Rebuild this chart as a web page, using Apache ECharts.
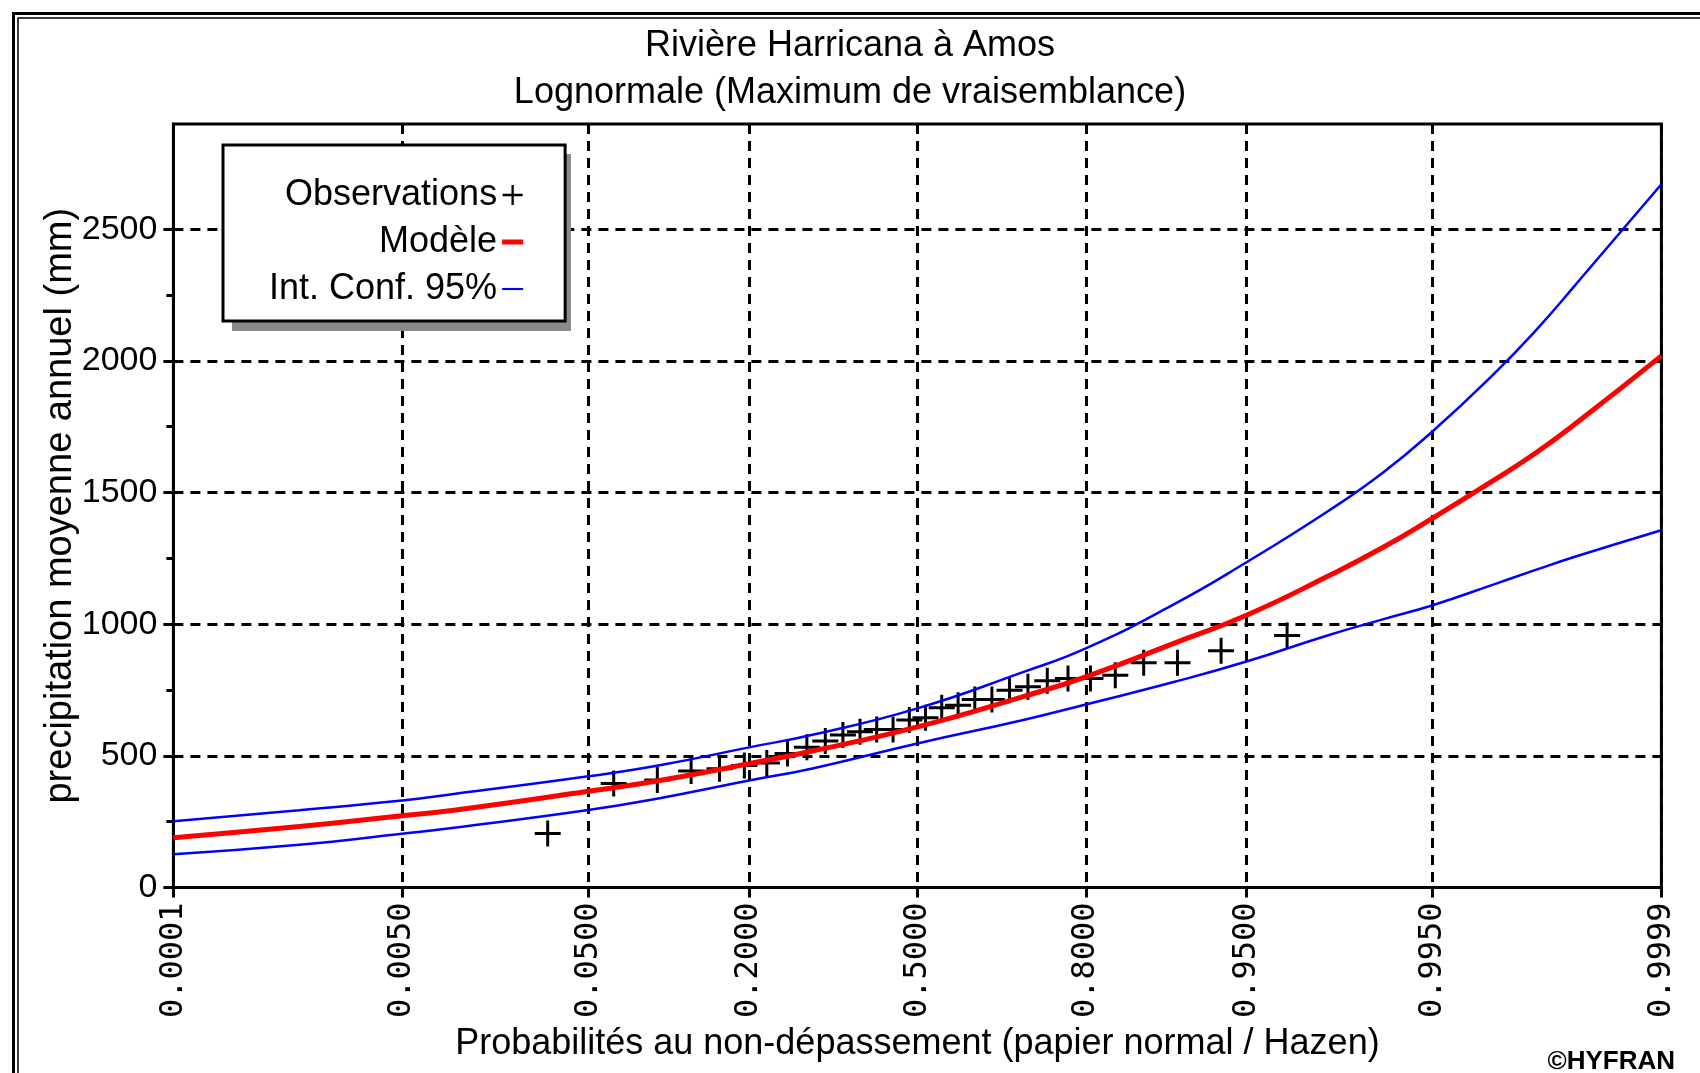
<!DOCTYPE html>
<html>
<head>
<meta charset="utf-8">
<title>Rivière Harricana à Amos</title>
<script src="https://cdn.jsdelivr.net/npm/echarts@6/dist/echarts.min.js"></script>
<style>
  html, body { margin: 0; padding: 0; background: #ffffff; }
  #chart { width: 1700px; height: 1073px; }
</style>
</head>
<body>
<div id="chart"></div>
<script>
// probabilites affichees sur l'axe (papier normal)
var tickProbs = ['0.0001', '0.0050', '0.0500', '0.2000', '0.5000', '0.8000', '0.9500', '0.9950', '0.9999'];
var yTicks = [0, 500, 1000, 1500, 2000, 2500];
var yMinorTicks = [250, 750, 1250, 1750, 2250];

// observations (position de tracage, precipitation mm)
var obsProb = [0.0323, 0.0645, 0.0968, 0.1290, 0.1613, 0.1935, 0.2258, 0.2581, 0.2903, 0.3226,
               0.3548, 0.3871, 0.4194, 0.4516, 0.4839, 0.5161, 0.5484, 0.5806, 0.6129, 0.6452,
               0.6774, 0.7097, 0.7419, 0.7742, 0.8065, 0.8387, 0.8710, 0.9032, 0.9355, 0.9677];
var obsValue = [205, 395, 408, 442, 451, 463, 473, 509, 532, 556,
                579, 591, 600, 600, 636, 644, 682, 692, 714, 714,
                749, 762, 785, 794, 794, 806, 853, 853, 899, 957];

// modele lognormal et intervalle de confiance 95%
var curveProb = [0.0001, 0.001, 0.005, 0.01, 0.05, 0.1, 0.2, 0.3, 0.5, 0.7,
                 0.8, 0.9, 0.95, 0.98, 0.99, 0.995, 0.998, 0.999, 0.9995, 0.9999];
var modelValue = [189, 231, 272, 292, 365, 407, 470, 518, 610, 724,
                  800, 927, 1034, 1183, 1291, 1403, 1545, 1650, 1762, 2019];
var upperValue = [251, 293, 330, 354, 422, 465, 532, 580, 680, 817,
                  908, 1075, 1235, 1430, 1575, 1733, 1948, 2115, 2290, 2671];
var lowerValue = [126, 162, 204, 226, 294, 340, 406, 452, 547, 635,
                  695, 780, 858, 958, 1018, 1072, 1150, 1206, 1257, 1357];

// quantile de la loi normale (Acklam) : echelle du papier normal
function probit(p) {
  var a = [-3.969683028665376e+01, 2.209460984245205e+02, -2.759285104469687e+02, 1.383577518672690e+02, -3.066479806614716e+01, 2.506628277459239e+00];
  var b = [-5.447609879822406e+01, 1.615858368580409e+02, -1.556989798598866e+02, 6.680131188771972e+01, -1.328068155288572e+01];
  var c = [-7.784894002430293e-03, -3.223964580411365e-01, -2.400758277161838e+00, -2.549732539343734e+00, 4.374664141464968e+00, 2.938163982698783e+00];
  var d = [7.784695709041462e-03, 3.224671290700398e-01, 2.445134137142996e+00, 3.754408661907416e+00];
  var pl = 0.02425, q, r;
  if (p < pl) {
    q = Math.sqrt(-2 * Math.log(p));
    return (((((c[0] * q + c[1]) * q + c[2]) * q + c[3]) * q + c[4]) * q + c[5]) / ((((d[0] * q + d[1]) * q + d[2]) * q + d[3]) * q + 1);
  }
  if (p > 1 - pl) {
    q = Math.sqrt(-2 * Math.log(1 - p));
    return -(((((c[0] * q + c[1]) * q + c[2]) * q + c[3]) * q + c[4]) * q + c[5]) / ((((d[0] * q + d[1]) * q + d[2]) * q + d[3]) * q + 1);
  }
  q = p - 0.5; r = q * q;
  return (((((a[0] * r + a[1]) * r + a[2]) * r + a[3]) * r + a[4]) * r + a[5]) * q / (((((b[0] * r + b[1]) * r + b[2]) * r + b[3]) * r + b[4]) * r + 1);
}

var tickZ = tickProbs.map(function (p) { return probit(parseFloat(p)); });
var zMin = tickZ[0], zMax = tickZ[tickZ.length - 1];

function pairs(probs, values) {
  return probs.map(function (p, i) { return [probit(p), values[i]]; });
}

var plusPath = 'path://M11.5,0H14.5V11.5H26V14.5H14.5V26H11.5V14.5H0V11.5H11.5Z';
var font = 'Liberation Sans';
var dashed = { color: '#000', width: 3, type: [10, 7] };

var chart = echarts.init(document.getElementById('chart'));

var option = {
  backgroundColor: '#ffffff',
  animation: false,
  title: {
    text: 'Rivière Harricana à Amos\nLognormale (Maximum de vraisemblance)',
    left: 'center',
    top: 18,
    textStyle: { fontFamily: font, fontSize: 36, fontWeight: 'normal', lineHeight: 47, color: '#000' }
  },
  legend: {
    left: 223,
    top: 145,
    z: 5,
    orient: 'vertical',
    align: 'right',
    padding: [32, 42, 14, 46],
    itemGap: 11,
    itemWidth: 21,
    itemHeight: 20,
    backgroundColor: '#ffffff',
    borderColor: '#000',
    borderWidth: 3,
    selectedMode: false,
    textStyle: { fontFamily: font, fontSize: 36, color: '#000' },
    data: [
      { name: 'Observations', icon: plusPath },
      { name: 'Modèle', icon: 'path://M0,0H21V5H0Z' },
      { name: 'Int. Conf. 95%', icon: 'path://M0,0H20V2H0Z' }
    ]
  },
  grid: {
    left: 173.4, right: 38.6, top: 124, bottom: 185.6,
    show: true, borderColor: '#000', borderWidth: 3, backgroundColor: 'transparent'
  },
  xAxis: {
    type: 'value',
    min: zMin,
    max: zMax,
    name: 'Probabilités au non-dépassement (papier normal / Hazen)',
    nameLocation: 'middle',
    nameGap: 136,
    nameTextStyle: { fontFamily: font, fontSize: 36, color: '#000' },
    axisLine: { onZero: false, lineStyle: { color: '#000', width: 3 } },
    axisTick: { customValues: tickZ, length: 10, lineStyle: { color: '#000', width: 3 } },
    axisLabel: {
      customValues: tickZ,
      rotate: 90,
      margin: 15,
      fontFamily: 'DejaVu Sans Mono',
      fontSize: 32,
      color: '#000',
      formatter: function (v) {
        var best = 0;
        for (var i = 1; i < tickZ.length; i++) {
          if (Math.abs(tickZ[i] - v) < Math.abs(tickZ[best] - v)) best = i;
        }
        return tickProbs[best];
      }
    },
    splitLine: { show: true, lineStyle: dashed }
  },
  yAxis: [{
    type: 'value',
    min: 0,
    max: 2900,
    interval: 500,
    name: 'precipitation moyenne annuel (mm)',
    nameLocation: 'middle',
    nameGap: 94,
    nameMoveOverlap: false,
    nameTextStyle: { fontFamily: font, fontSize: 38, color: '#000' },
    axisLine: { show: true, onZero: false, lineStyle: { color: '#000', width: 3 } },
    axisTick: { show: true, customValues: yTicks, length: 10, lineStyle: { color: '#000', width: 3 } },
    axisLabel: {
      customValues: yTicks, margin: 16, fontFamily: font, fontSize: 34, color: '#000',
      formatter: function (v) { return String(Math.round(v)); }
    },
    splitLine: { show: true, lineStyle: dashed }
  }, {
    type: 'value',
    min: 0,
    max: 2900,
    position: 'left',
    axisLine: { show: false, onZero: false },
    axisTick: { show: true, customValues: yMinorTicks, length: 7, lineStyle: { color: '#000', width: 3 } },
    axisLabel: { show: false },
    splitLine: { show: false }
  }],
  series: [
    {
      name: 'Observations',
      type: 'scatter',
      symbol: plusPath,
      symbolSize: 26,
      itemStyle: { color: '#000', opacity: 1 },
      z: 2,
      data: pairs(obsProb, obsValue)
    },
    {
      name: 'Modèle',
      type: 'line',
      color: '#ff0000',
      symbol: 'none',
      smooth: true,
      lineStyle: { color: '#ff0000', width: 5 },
      z: 3,
      data: pairs(curveProb, modelValue)
    },
    {
      name: 'Int. Conf. 95%',
      type: 'line',
      color: '#0000ff',
      symbol: 'none',
      smooth: true,
      lineStyle: { color: '#0000ff', width: 2.5 },
      z: 3,
      data: pairs(curveProb, upperValue)
    },
    {
      name: 'Int. Conf. 95%',
      type: 'line',
      color: '#0000ff',
      symbol: 'none',
      smooth: true,
      lineStyle: { color: '#0000ff', width: 2.5 },
      z: 3,
      data: pairs(curveProb, lowerValue)
    }
  ],
  graphic: [
    { type: 'rect', shape: { x: 13.5, y: 13.5, width: 1800, height: 1200 }, style: { fill: 'none', stroke: '#000', lineWidth: 3 }, silent: true },
    { type: 'rect', shape: { x: 18, y: 18, width: 1800, height: 1200 }, style: { fill: 'none', stroke: '#000', lineWidth: 1.5 }, silent: true },
    // ombre de la legende
    { type: 'rect', z: 4, shape: { x: 232, y: 154, width: 339, height: 177 }, style: { fill: '#8a8a8a' }, silent: true },
    { type: 'text', right: 25, top: 1049, style: { text: '©HYFRAN', font: 'bold 26px "Liberation Sans"', fill: '#000' } }
  ]
};

chart.setOption(option);
</script>
</body>
</html>
